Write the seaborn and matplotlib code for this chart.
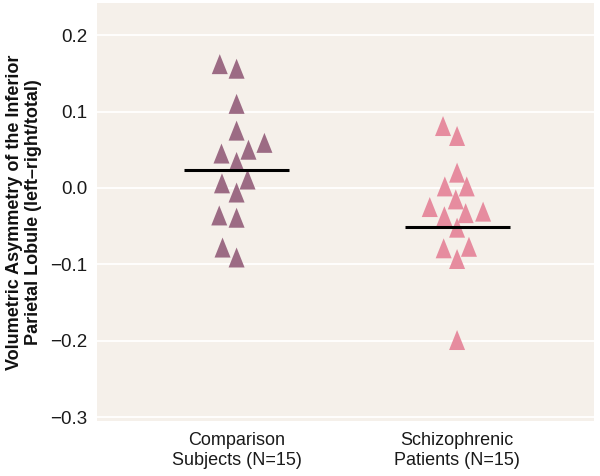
import numpy as np
import pandas as pd
import matplotlib
matplotlib.use("Agg")
import matplotlib.pyplot as plt
import seaborn as sns

groups = ["Comparison\nSubjects (N=15)", "Schizophrenic\nPatients (N=15)"]
comparison = [0.162, 0.156, 0.110, 0.075, 0.059, 0.050, 0.045, 0.034,
              0.011, 0.006, -0.006, -0.036, -0.039, -0.078, -0.091]
patients = [0.081, 0.068, 0.020, 0.002, 0.002, -0.015, -0.025, -0.031,
            -0.037, -0.033, -0.052, -0.079, -0.077, -0.093, -0.199]
group_means = [0.0235, -0.051]
colors = ["#9C6B84", "#E68C9F"]
yticks = [0.2, 0.1, 0.0, -0.1, -0.2, -0.3]

df = pd.DataFrame({
    "group": [groups[0]] * len(comparison) + [groups[1]] * len(patients),
    "value": comparison + patients,
})

sns.set_style("whitegrid", {
    "axes.facecolor": "#F5F0EA",
    "grid.color": "white",
    "axes.edgecolor": "none",
})
plt.rcParams["font.family"] = ["Liberation Sans", "DejaVu Sans"]

fig = plt.figure(figsize=(6.0, 4.76), dpi=100)
ax = fig.add_axes([0.1617, 0.1155, 0.8283, 0.8782])

tri = [(0, 1), (-0.8, -1), (0.8, -1), (0, 1)]
sns.swarmplot(data=df, x="group", y="value", hue="group", palette=colors,
              order=groups, marker=tri, s=12, linewidth=0, legend=False, ax=ax)

ax.set_xlim(-0.633, 1.621)
ax.set_ylim(-0.305, 0.242)

# compute swarm layout, then enlarge markers keeping positions
fig.canvas.draw()
for coll in ax.collections:
    if "draw" in coll.__dict__:
        del coll.draw
    coll.set_sizes([14.4 ** 2])

for i, m in enumerate(group_means):
    ax.hlines(m, i - 0.238, i + 0.238, color="black", linewidth=2.2, zorder=5)

ax.set_yticks(yticks)
ax.set_yticklabels([f"{t:.1f}".replace("-", "\u2212") for t in yticks])
ax.tick_params(axis="y", labelsize=13.5, length=0, pad=7, colors="#1a1a1a")
ax.tick_params(axis="x", labelsize=13, length=0, pad=8, colors="#1a1a1a")
ax.grid(axis="x", visible=False)
ax.grid(axis="y", color="white", linewidth=1.3)
ax.set_xlabel("")
ax.set_ylabel("Volumetric Asymmetry of the Inferior\nParietal Lobule (left\u2013right/total)",
              fontsize=13, fontweight="bold", labelpad=6, linespacing=1.1,
              color="#111111")
for s in ax.spines.values():
    s.set_visible(False)

fig.savefig("out.png", dpi=100)
